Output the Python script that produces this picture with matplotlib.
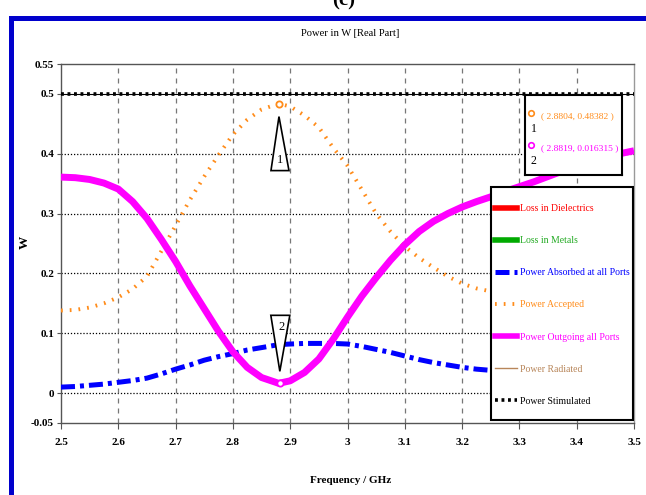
import matplotlib
matplotlib.use('Agg')
import matplotlib.pyplot as plt
import matplotlib.transforms as mtransforms
from matplotlib.patches import Rectangle, Polygon

plt.rcParams['font.family'] = ['Liberation Serif', 'DejaVu Serif']

# Values
freq = [2.5, 2.525, 2.55, 2.575, 2.6, 2.625, 2.65, 2.675, 2.7, 2.725,
        2.75, 2.775, 2.8, 2.825, 2.85, 2.88, 2.9, 2.925, 2.95, 2.975,
        3.0, 3.025, 3.05, 3.075, 3.1, 3.125, 3.15, 3.175, 3.2, 3.225,
        3.25, 3.275, 3.3, 3.325, 3.35, 3.375, 3.4, 3.425, 3.45, 3.475,
        3.5]
power_accepted = [0.138, 0.139, 0.143, 0.15, 0.16, 0.174, 0.195, 0.237,
                  0.28, 0.323, 0.362, 0.398, 0.432, 0.457, 0.474, 0.4838,
                  0.479, 0.464, 0.444, 0.41, 0.38, 0.34, 0.30, 0.27,
                  0.245, 0.226, 0.21, 0.195, 0.183, 0.175, 0.17, 0.162,
                  0.155, 0.146, 0.138, 0.13, 0.123, 0.116, 0.11, 0.104,
                  0.098]
power_outgoing = [0.361, 0.36, 0.357, 0.351, 0.341, 0.32, 0.292, 0.257,
                  0.22, 0.179, 0.141, 0.103, 0.069, 0.043, 0.026, 0.0163,
                  0.0205, 0.0345, 0.057, 0.09, 0.127, 0.162, 0.193, 0.222,
                  0.248, 0.27, 0.287, 0.3, 0.311, 0.32, 0.328, 0.337,
                  0.345, 0.353, 0.362, 0.371, 0.38, 0.388, 0.395, 0.4,
                  0.405]
power_absorbed = [0.01, 0.011, 0.013, 0.015, 0.018, 0.021, 0.025, 0.032,
                  0.04, 0.047, 0.055, 0.061, 0.066, 0.072, 0.076, 0.081,
                  0.082, 0.083, 0.083, 0.083, 0.082, 0.078, 0.073, 0.068,
                  0.062, 0.056, 0.051, 0.047, 0.043, 0.04, 0.038, 0.036,
                  0.034, 0.0325, 0.031, 0.0295, 0.028, 0.0265, 0.025,
                  0.0235, 0.022]
power_stimulated = [0.5] * len(freq)
loss_dielectrics = []
loss_metals = []
power_radiated = []

# Markers: (label, freq, value, colour)
markers = [('1', 2.8804, 0.48382, '#FF8C1A'),
           ('2', 2.8819, 0.016315, '#FF00FF')]

xticks = [2.5, 2.6, 2.7, 2.8, 2.9, 3.0, 3.1, 3.2, 3.3, 3.4, 3.5]
xtick_labels = ['2.5', '2.6', '2.7', '2.8', '2.9', '3', '3.1', '3.2',
                '3.3', '3.4', '3.5']
yticks = [-0.05, 0, 0.1, 0.2, 0.3, 0.4, 0.5, 0.55]
ytick_labels = ['-0.05', '0', '0.1', '0.2', '0.3', '0.4', '0.5', '0.55']
hgrid = [0, 0.1, 0.2, 0.3, 0.4]

ORANGE = '#FF8C1A'
MAGENTA = '#FF00FF'
BLUE = '#0000FF'
BROWN = '#B8865A'
SPINE = '#555555'

DOTS = (0, (0.45, 1.8))
DASHDOT = (0, (2.8, 1.0, 0.8, 1.0))
STIM = (0, (0.8, 1.0))


def plot_power():
    fig = plt.figure(figsize=(6.46, 4.95), dpi=100)
    W, H = 646., 495.
    ax = fig.add_axes([61 / W, 1 - 423 / H, 573 / W, 359 / H])
    ax.set_xlim(2.5, 3.5)
    ax.set_ylim(-0.05, 0.55)

    # Grid
    for y in hgrid:
        ax.axhline(y, color='k', lw=0.9, ls=(0, (1, 1.5)), zorder=1)
    for x in xticks[1:-1]:
        ax.axvline(x, color='#777777', lw=0.9, ls=(0, (4, 4)), zorder=1)

    # Curves
    ax.plot(freq, power_stimulated, color='k', lw=0.8, zorder=3)
    ax.plot(freq, power_stimulated, color='k', lw=2.6, ls=STIM, zorder=3)
    ax.plot(freq, power_accepted, color=ORANGE, lw=2.8, ls=DOTS, zorder=3)
    ax.plot(freq, power_absorbed, color=BLUE, lw=3.6, ls=DASHDOT, zorder=3)
    ax.plot(freq, power_outgoing, color=MAGENTA, lw=5,
            solid_capstyle='butt', solid_joinstyle='round', zorder=3)

    # Markers with triangle flags (offsets in pixels, y up)
    tri_up = [(0, -13), (-8, -67), (10, -67)]
    tri_dn = [(0, 12), (-9, 68), (10, 68)]
    for (lab, fx, fy, col), tri in zip(markers, [tri_up, tri_dn]):
        ax.plot([fx], [fy], 'o', ms=4.5, mfc='white', mec=col, mew=1.3,
                zorder=5)
        trans = fig.dpi_scale_trans + mtransforms.ScaledTranslation(
            fx, fy, ax.transData)
        verts = [(px / 100., py / 100.) for px, py in tri]
        ax.add_patch(Polygon(verts, closed=True, fc='white', ec='k',
                             lw=1.2, transform=trans, zorder=6))
        ty = -56 if lab == '1' else 56
        ax.text(1.5 / 100., ty / 100., lab, transform=trans, ha='center',
                va='center', fontsize=9, zorder=7)

    # Axes styling
    for side in ['left', 'bottom', 'top', 'right']:
        ax.spines[side].set_color(SPINE)
        ax.spines[side].set_linewidth(1.0)
    ax.spines['right'].set_color('#999999')
    ax.set_xticks(xticks)
    ax.set_xticklabels(xtick_labels, fontweight='bold', fontsize=8)
    ax.set_yticks(yticks)
    ax.set_yticklabels(ytick_labels, fontweight='bold', fontsize=8)
    ax.tick_params(axis='x', length=4, pad=7, color=SPINE)
    ax.tick_params(axis='y', length=3, pad=2, color=SPINE)
    ax.tick_params(top=False, right=False)
    ax.set_xlabel('Frequency / GHz', fontweight='bold', fontsize=8)
    ax.xaxis.set_label_coords(0.506, -0.147)
    ax.set_ylabel('W', fontweight='bold', fontsize=9.5)
    ax.yaxis.set_label_coords(-30 / 573., 0.504)
    fig.text(350 / W, 1 - 33 / H, 'Power in W [Real Part]',
             ha='center', va='center', fontsize=7.6)

    # Legend with its own frame
    ax.add_patch(Rectangle((0.750, 0.008), 0.248, 0.649,
                           transform=ax.transAxes, fc='white', ec='k',
                           lw=1.5, zorder=8))
    handles = [
        ax.plot(loss_dielectrics, loss_dielectrics, color='#FF0000',
                lw=4)[0],
        ax.plot(loss_metals, loss_metals, color='#00AA00', lw=4)[0],
        ax.plot([], [], color=BLUE, lw=3.6, ls=DASHDOT)[0],
        ax.plot([], [], color=ORANGE, lw=2.8, ls=DOTS)[0],
        ax.plot([], [], color=MAGENTA, lw=4)[0],
        ax.plot(power_radiated, power_radiated, color=BROWN, lw=1)[0],
        ax.plot([], [], color='k', lw=2.6, ls=STIM)[0],
    ]
    labels = ['Loss in Dielectrics', 'Loss in Metals',
              'Power Absorbed at all Ports', 'Power Accepted',
              'Power Outgoing all Ports', 'Power Radiated',
              'Power Stimulated']
    text_cols = ['#FF0000', '#22AA22', BLUE, ORANGE, MAGENTA, BROWN, 'k']
    leg = ax.legend(handles, labels, loc='upper left',
                    bbox_to_anchor=(0.752, 0.618), frameon=False,
                    fontsize=7, handlelength=2.3, handletextpad=0.25,
                    labelspacing=2.38, borderpad=0.3, borderaxespad=0)
    leg.set_zorder(9)
    for txt, col in zip(leg.get_texts(), text_cols):
        txt.set_color(col)

    # Marker readout box
    bx = fig.add_axes([525 / W, 1 - 175 / H, 97 / W, 80 / H])
    bx.set_xlim(0, 1)
    bx.set_ylim(0, 1)
    bx.set_xticks([])
    bx.set_yticks([])
    for s in bx.spines.values():
        s.set_color('k')
        s.set_linewidth(1.5)
    for i, (lab, fx, fy, col) in enumerate(markers):
        yc = 0.77 - i * 0.4
        bx.plot([0.06], [yc], 'o', ms=4, mfc='white', mec=col, mew=1.2)
        bx.text(0.09, yc - 0.2, lab, ha='center', va='center',
                fontsize=8.5)
        bx.text(0.16, yc - 0.04, '( %.4f, %s )' % (fx, repr(fy)),
                color=col, ha='left', va='center', fontsize=6.8)

    # Outer blue frame and caption
    fig.patches.append(Rectangle((10.5 / W, -0.2), 2.0, 1 - 17.5 / H + 0.2,
                                 transform=fig.transFigure, fill=False,
                                 ec='#0000CC', lw=3.6, clip_on=False))
    fig.text(344 / W, 1 - 10 / H, '(c)', ha='center', va='bottom',
             fontsize=15, fontweight='bold')
    return fig


def main():
    fig = plot_power()
    fig.savefig('out.png', dpi=100)


if __name__ == '__main__':
    main()
